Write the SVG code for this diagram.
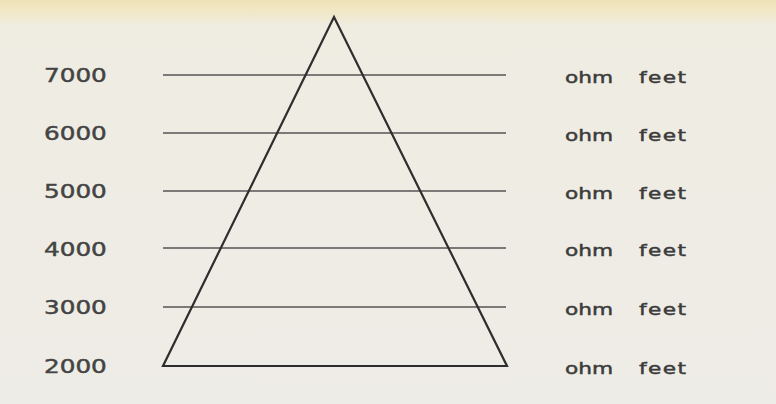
<svg xmlns="http://www.w3.org/2000/svg" width="776" height="404" viewBox="0 0 776 404">
  <defs>
    <linearGradient id="bg" x1="0" y1="0" x2="0" y2="1">
      <stop offset="0" stop-color="#efe2b6"/>
      <stop offset="0.03" stop-color="#f1e8c8"/>
      <stop offset="0.065" stop-color="#efece2"/>
      <stop offset="1" stop-color="#eeece6"/>
    </linearGradient>
  </defs>
  <style>
    .num { font-family: "DejaVu Sans", "Liberation Sans", sans-serif; font-size: 19px; letter-spacing: 0px; fill: #444; stroke: #444; stroke-width: 0.45; }
    .unit { font-family: "DejaVu Sans", "Liberation Sans", sans-serif; font-size: 15.5px; fill: #3c3c3c; stroke: #3c3c3c; stroke-width: 0.45; }
    .ohm { letter-spacing: 0px; }
    .feet { letter-spacing: 1px; }
    .level { stroke: #555; stroke-width: 1.3; fill: none; }
    .tri { stroke: #2e2e2e; stroke-width: 2.2; fill: none; stroke-linejoin: miter; }
  </style>
  <rect width="776" height="404" fill="url(#bg)"/>

  <g id="levels">
    <line class="level" x1="163" y1="75" x2="506" y2="75"/>
    <line class="level" x1="163" y1="133" x2="506" y2="133"/>
    <line class="level" x1="163" y1="191" x2="506" y2="191"/>
    <line class="level" x1="163" y1="248" x2="506" y2="248"/>
    <line class="level" x1="163" y1="307" x2="506" y2="307"/>
  </g>

  <g id="triangle">
    <polygon class="tri" points="334,17 507,366 163,366"/>
  </g>

  <g id="row-7000">
    <text class="num" transform="translate(44,82) scale(1.3,1)">7000</text>
    <text class="unit ohm" transform="translate(565,83) scale(1.4,1)">ohm</text>
    <text class="unit feet" transform="translate(639,83) scale(1.4,1)">feet</text>
  </g>
  <g id="row-6000">
    <text class="num" transform="translate(44,140) scale(1.3,1)">6000</text>
    <text class="unit ohm" transform="translate(565,141) scale(1.4,1)">ohm</text>
    <text class="unit feet" transform="translate(639,141) scale(1.4,1)">feet</text>
  </g>
  <g id="row-5000">
    <text class="num" transform="translate(44,198) scale(1.3,1)">5000</text>
    <text class="unit ohm" transform="translate(565,199) scale(1.4,1)">ohm</text>
    <text class="unit feet" transform="translate(639,199) scale(1.4,1)">feet</text>
  </g>
  <g id="row-4000">
    <text class="num" transform="translate(44,256) scale(1.3,1)">4000</text>
    <text class="unit ohm" transform="translate(565,256) scale(1.4,1)">ohm</text>
    <text class="unit feet" transform="translate(639,256) scale(1.4,1)">feet</text>
  </g>
  <g id="row-3000">
    <text class="num" transform="translate(44,314) scale(1.3,1)">3000</text>
    <text class="unit ohm" transform="translate(565,315) scale(1.4,1)">ohm</text>
    <text class="unit feet" transform="translate(639,315) scale(1.4,1)">feet</text>
  </g>
  <g id="row-2000">
    <text class="num" transform="translate(44,373) scale(1.3,1)">2000</text>
    <text class="unit ohm" transform="translate(565,374) scale(1.4,1)">ohm</text>
    <text class="unit feet" transform="translate(639,374) scale(1.4,1)">feet</text>
  </g>
</svg>
